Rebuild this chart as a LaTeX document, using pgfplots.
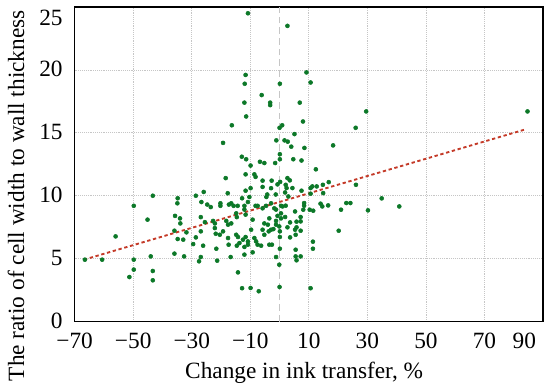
\documentclass[border=0pt]{standalone}
\usepackage{pgfplots}
\pgfplotsset{compat=1.18}
\usepackage{fontspec}
\setmainfont{Liberation Serif}
\definecolor{dotgreen}{RGB}{12,120,40}
\definecolor{trendred}{RGB}{196,58,40}
\begin{document}
\fontsize{17.5}{21}\selectfont
\begin{tikzpicture}
\begin{axis}[
  scale only axis,
  width=351.75pt, height=236.25pt,
  xmin=-70, xmax=90, ymin=0, ymax=25,
  xtick={-70,-50,-30,-10,10,30,50,70},
  xticklabels={−70,−50,−30,−10,10,30,50,70},
  extra x ticks={83.6},
  extra x tick labels={90},
  extra x tick style={grid=none},
  ytick={0,5,10,15,20},
  yticklabels={0,5,10,15,20},
  extra y ticks={24.1},
  extra y tick labels={25},
  extra y tick style={grid=none},
  major tick length=0pt,
  grid=major,
  major grid style={gray!45, densely dotted, line width=0.6pt},
  axis line style={black, line width=1.1pt},
  xticklabel style={inner sep=0.5pt, yshift=-7.6pt},
  yticklabel style={inner sep=0.5pt, xshift=-8.3pt, yshift=0.6pt},
  xlabel={Change in ink transfer, \%},
  ylabel={The ratio of cell width to wall thickness},
  xlabel style={at={(axis description cs:0.49,-0.162)}, anchor=center},
  ylabel style={at={(axis description cs:-0.125,0.40)}, anchor=center},
]
\addplot[gray!45, line width=1pt, dash pattern=on 5pt off 3pt, forget plot] coordinates {(0,0) (0,25)};
\addplot[only marks, mark=*, mark size=1.5pt, color=dotgreen] table {
x y
-10.8 24.5
2.7 23.5
-11.6 19.6
-11.9 18.9
0.1 18.9
9.2 19.8
10.6 19.0
-6.1 18.0
-3.2 17.4
-3.2 17.2
-12.0 17.4
6.9 17.4
-11.4 16.3
-16.3 15.6
8.0 15.9
0.0 15.4
0.9 15.6
5.1 14.9
-19.3 14.2
-1.1 14.4
1.7 14.4
2.8 14.3
4.0 13.9
8.5 13.8
0.1 13.3
-12.9 13.1
-11.4 12.9
0.1 12.9
-6.7 12.7
-5.2 12.6
-1.5 12.6
4.7 12.9
7.5 12.8
-9.9 12.4
29.6 16.7
84.7 16.7
26.0 15.4
18.3 14.0
12.4 12.1
-18.4 11.4
-11.6 11.7
-8.6 11.7
-8.2 11.5
-5.8 11.2
-2.7 11.2
-0.7 10.9
0.2 11.1
-5.8 10.7
-2.9 10.6
-9.9 10.6
-11.6 10.4
-17.7 10.2
-25.9 10.3
-28.6 10.0
-34.8 9.8
-43.3 10.0
-4.2 10.1
-1.3 10.1
-4.5 9.9
-12.8 9.8
-10.3 9.9
-34.9 9.4
-26.7 9.5
-24.7 9.3
-23.5 9.1
-20.2 9.4
-20.2 9.2
-17.3 9.3
-16.5 9.4
-15.7 9.2
-14.3 9.2
-12.0 9.2
-10.8 9.5
-8.2 9.2
-7.5 9.2
-5.8 9.0
-4.6 9.2
-2.9 9.4
-1.8 9.0
-1.2 8.9
0.5 9.2
-49.8 9.2
-45.1 8.1
-35.7 8.4
-34.0 8.2
-33.9 7.8
-26.9 8.3
-25.5 7.9
-22.7 8.0
-22.1 7.8
-18.2 8.0
-17.6 7.7
-16.5 7.8
-14.6 8.3
-14.8 8.6
-11.6 8.5
-12.0 8.9
-9.2 8.1
-5.2 7.8
-4.0 7.7
-3.5 8.2
-1.2 8.0
-0.7 8.4
0.5 8.6
0.5 8.2
-35.9 7.22
-34.8 6.56
-32.9 6.51
-31.8 7.09
-28.6 6.69
-26.9 7.17
-22.1 7.43
-21.8 6.98
-20.4 6.90
-19.3 7.17
-17.6 6.64
-14.8 6.90
-14.2 6.72
-12.5 6.51
-11.6 6.72
-10.8 6.37
-9.7 7.30
-8.6 6.64
-8.0 6.37
-5.8 7.30
-5.2 6.90
-3.7 7.17
-2.9 7.30
-2.1 7.35
-1.2 7.70
-0.1 7.56
0.1 7.17
0.1 6.72
-56.0 6.77
-29.5 6.16
-26.1 6.03
-21.6 5.79
-17.4 6.11
-14.6 6.03
-13.7 6.24
-12.0 5.93
-10.8 6.11
-9.2 5.50
-7.5 6.11
-6.3 6.03
-3.5 6.11
-2.6 6.11
-1.2 5.13
0.1 5.79
-66.5 4.92
-60.6 4.92
-49.8 4.92
-44.0 5.18
-35.9 5.40
-32.6 5.18
-26.9 5.13
-27.5 4.79
-21.3 4.84
-16.7 5.13
-12.0 5.32
-49.8 4.13
-51.3 3.54
-43.3 4.02
-43.3 3.28
-14.2 3.91
-12.8 2.65
-9.9 2.67
-7.1 2.41
-0.1 4.52
0.0 2.75
2.7 11.40
3.5 11.22
2.1 10.87
2.4 10.61
1.9 10.26
3.0 9.94
4.4 10.61
7.5 10.40
10.6 10.61
11.2 10.74
12.7 10.74
14.8 10.87
16.8 11.08
14.9 10.21
10.6 10.16
26.1 10.87
34.9 9.79
8.4 9.42
8.4 9.21
2.1 9.21
1.0 9.15
14.0 9.37
14.6 9.15
16.6 9.23
22.8 9.42
24.2 9.42
8.1 8.89
10.3 8.89
11.5 8.81
5.3 8.75
21.0 8.89
30.2 8.84
40.9 9.15
1.9 8.31
7.2 8.31
3.6 7.88
5.8 7.94
7.2 7.96
2.7 7.49
5.8 7.49
5.3 7.30
7.2 7.22
20.2 7.22
5.5 6.90
3.6 6.69
11.4 6.35
11.4 5.79
5.5 5.71
5.5 5.18
7.2 5.18
5.8 4.87
10.6 2.65
};
\addplot[trendred, line width=1.4pt, dash pattern=on 2.5pt off 2pt] coordinates {(-66.8,4.92) (83.5,15.24)};
\end{axis}
\path (current axis.south west) ++(-55.5pt,-51.75pt) coordinate (bbA);
\path (current axis.north east) ++(5.25pt,5.25pt) coordinate (bbB);
\path (bbA) rectangle (bbB);
\end{tikzpicture}
\end{document}
